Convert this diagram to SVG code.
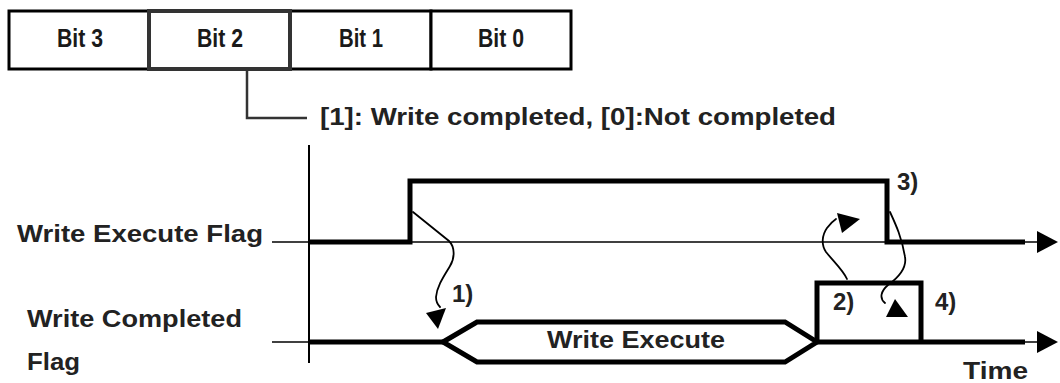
<svg xmlns="http://www.w3.org/2000/svg" width="1060" height="383" viewBox="0 0 1060 383">
<style>
.box{fill:#fff;stroke:#000;stroke-width:3}
.sel{fill:#fff;stroke:#333;stroke-width:4}
.bt{font-family:"Liberation Sans",Arial,sans-serif;font-weight:bold;font-size:26px;fill:#1a1a1a;text-anchor:middle}
.lb{font-family:"Liberation Sans",Arial,sans-serif;font-weight:bold;font-size:23px;fill:#222}
.sm{font-size:24px}
.thin{fill:none;stroke:#000;stroke-width:1.5}
.thick{fill:none;stroke:#000;stroke-width:5;stroke-linejoin:miter}
.hex{fill:#fff;stroke:#000;stroke-width:5;stroke-linejoin:miter}
.curve{fill:none;stroke:#000;stroke-width:1.8;stroke-linecap:round}
.ah{fill:#000}
</style>
<rect width="1060" height="383" fill="#fff"/>
<g id="bit3"><rect class="box" x="9" y="11" width="140" height="58"/><text class="bt" x="80" y="47" textLength="46" lengthAdjust="spacingAndGlyphs">Bit 3</text></g>
<g id="bit1"><rect class="box" x="290" y="11" width="141" height="58"/><text class="bt" x="361" y="47" textLength="44" lengthAdjust="spacingAndGlyphs">Bit 1</text></g>
<g id="bit0"><rect class="box" x="431" y="11" width="140" height="58"/><text class="bt" x="501" y="47" textLength="46" lengthAdjust="spacingAndGlyphs">Bit 0</text></g>
<g id="bit2"><rect class="sel" x="149" y="11" width="141" height="58"/><text class="bt" x="220" y="47" textLength="46" lengthAdjust="spacingAndGlyphs">Bit 2</text></g>
<g id="bit2-note"><text class="lb" x="320" y="125" textLength="516" lengthAdjust="spacingAndGlyphs">[1]: Write completed, [0]:Not completed</text></g>
<g id="axes">
<line class="thin" x1="309" y1="145" x2="309" y2="363" style="stroke-width:2"/>
<line class="thin" x1="272" y1="242" x2="1040" y2="242"/>
<line class="thin" x1="272" y1="342" x2="1040" y2="342"/>
<polygon class="ah" points="1037,231 1058,242 1037,253"/>
<polygon class="ah" points="1037,331 1058,342 1037,353"/>
<text class="lb" x="963" y="379" textLength="65" lengthAdjust="spacingAndGlyphs">Time</text>
</g>
<g id="write-execute-flag">
<text class="lb" x="17" y="242" textLength="246" lengthAdjust="spacingAndGlyphs">Write Execute Flag</text>
<path class="thick" d="M309 242 H410 V181 H887 V242 H1025"/>
</g>
<g id="write-completed-flag">
<text class="lb" x="27" y="327" textLength="215" lengthAdjust="spacingAndGlyphs">Write Completed</text>
<text class="lb" x="27" y="370" textLength="53" lengthAdjust="spacingAndGlyphs">Flag</text>
<path class="thick" d="M309 342 H443"/>
<path class="thick" d="M817 342 V283 H921 V342 M817 342 H1025"/>
</g>
<g id="write-execute">
<path class="hex" d="M443 342 L477 322 H785 L817 342 L785 362 H477 Z"/>
<text class="lb" x="547" y="348" textLength="178" lengthAdjust="spacingAndGlyphs">Write Execute</text>
</g>
<g id="connectors">
<path class="curve" d="M413 212 L449 241 C455 247 455 258 450 266 C444 276 437 286 436 297 C436 302 438 305 440 307"/>
<polygon class="ah" points="426,313 446,308 438,329"/>
<path class="curve" d="M847 279 C843 270 834 262 826 252 C821 245 822 235 827 228 C830 224 833 221 836 219"/>
<polygon class="ah" points="837,213 860,219 842,233"/>
<path class="curve" d="M890 212 C896 225 902 238 905 257 C907 268 899 277 888 285 C881 291 879 298 885 303"/>
<polygon class="ah" points="895,299 908,317 886,317"/>
<path d="M247 69 V118 H307" fill="none" stroke="#333" stroke-width="2.5"/>
</g>
<g id="step-labels">
<text class="lb sm" x="452" y="302">1)</text>
<text class="lb sm" x="833" y="310">2)</text>
<text class="lb sm" x="897" y="190">3)</text>
<text class="lb sm" x="935" y="310">4)</text>
</g>
</svg>
